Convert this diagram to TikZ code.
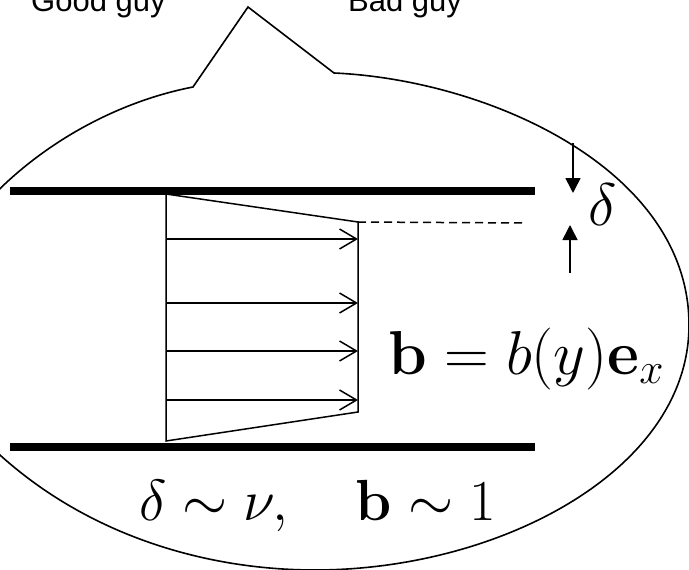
\documentclass[tikz,border=0pt]{standalone}
\usepackage{fix-cm}
\usepackage{amsmath,amssymb}
\usepackage[no-math]{fontspec}
\newfontfamily\speakerfont{Liberation Sans}
\usepackage{tikz}
\usetikzlibrary{arrows.meta,positioning,calc}

\begin{document}
\begin{tikzpicture}[
  x=1pt, y=-1pt,
  outline/.style={draw, line width=1.6pt},
  plate/.style={draw, line width=8pt},
  flow/.style={-{Straight Barb[length=17pt, width=20pt, line width=1.5pt]}, line width=1.5pt},
  gap/.style={-{Triangle[length=15pt, width=15pt]}, line width=1.6pt},
  speaker/.style={font=\speakerfont\fontsize{31}{31}\selectfont, anchor=base west, inner sep=0pt},
  formula/.style={font=\fontsize{#1}{#1}\selectfont, anchor=base west, inner sep=0pt},
]
\useasboundingbox (0,0) rectangle (689,570);

% Labels on top
\node[speaker] (good) at (31,11) {Good guy};
\node[speaker] (bad) at (348,11) {Bad guy};

% Speech bubble
\draw[outline, line join=miter]
  (-40,235) .. controls (15,158) and (105,104) .. (193,87)
  -- (248,7) -- (334,73)
  .. controls (490,80) and (689,170) .. (689,325)
  .. controls (689,470) and (500,570) .. (315,570)
  .. controls (190,570) and (60,525) .. (-30,425);

% Plates
\coordinate (P1a) at (10,191);
\coordinate (P1b) at (535,191);
\coordinate (P2a) at (10,447);
\coordinate (P2b) at (535,447);
\draw[plate] (P1a) -- (P1b);
\draw[plate] (P2a) -- (P2b);

% Velocity profile
\coordinate (A) at (166,194);
\coordinate (B) at (358,222);
\coordinate (C) at (358,412);
\coordinate (D) at (166,441);
\draw[outline, line width=1.5pt] (A) -- (B) -- (C) -- (D) -- cycle;
\foreach \i/\y in {1/239, 2/303, 3/351, 4/400} {
  \coordinate (L\i) at (166,\y);
  \coordinate (R\i) at (358,\y);
  \draw[flow] (L\i) -- (R\i);
}

% Boundary layer
\coordinate (E) at (525,223);
\draw[dashed, line width=1.5pt, dash pattern=on 8pt off 5pt] (B) -- (E);
\coordinate (T1) at (573,143);
\coordinate (T2) at (573,193);
\coordinate (U1) at (570,273);
\coordinate (U2) at (570,225);
\draw[gap] (T1) -- (T2);
\draw[gap] (U1) -- (U2);
\node[formula=60] (delta) at (588,225) {$\delta$};

% Formulas
\node[formula=62] (field) at (388,374) {$\mathbf{b}=b(y)\mathbf{e}_x$};
\node[formula=58] (scale) at (139,520) {$\delta\sim\nu,\quad\mathbf{b}\sim 1$};
\end{tikzpicture}
\end{document}
